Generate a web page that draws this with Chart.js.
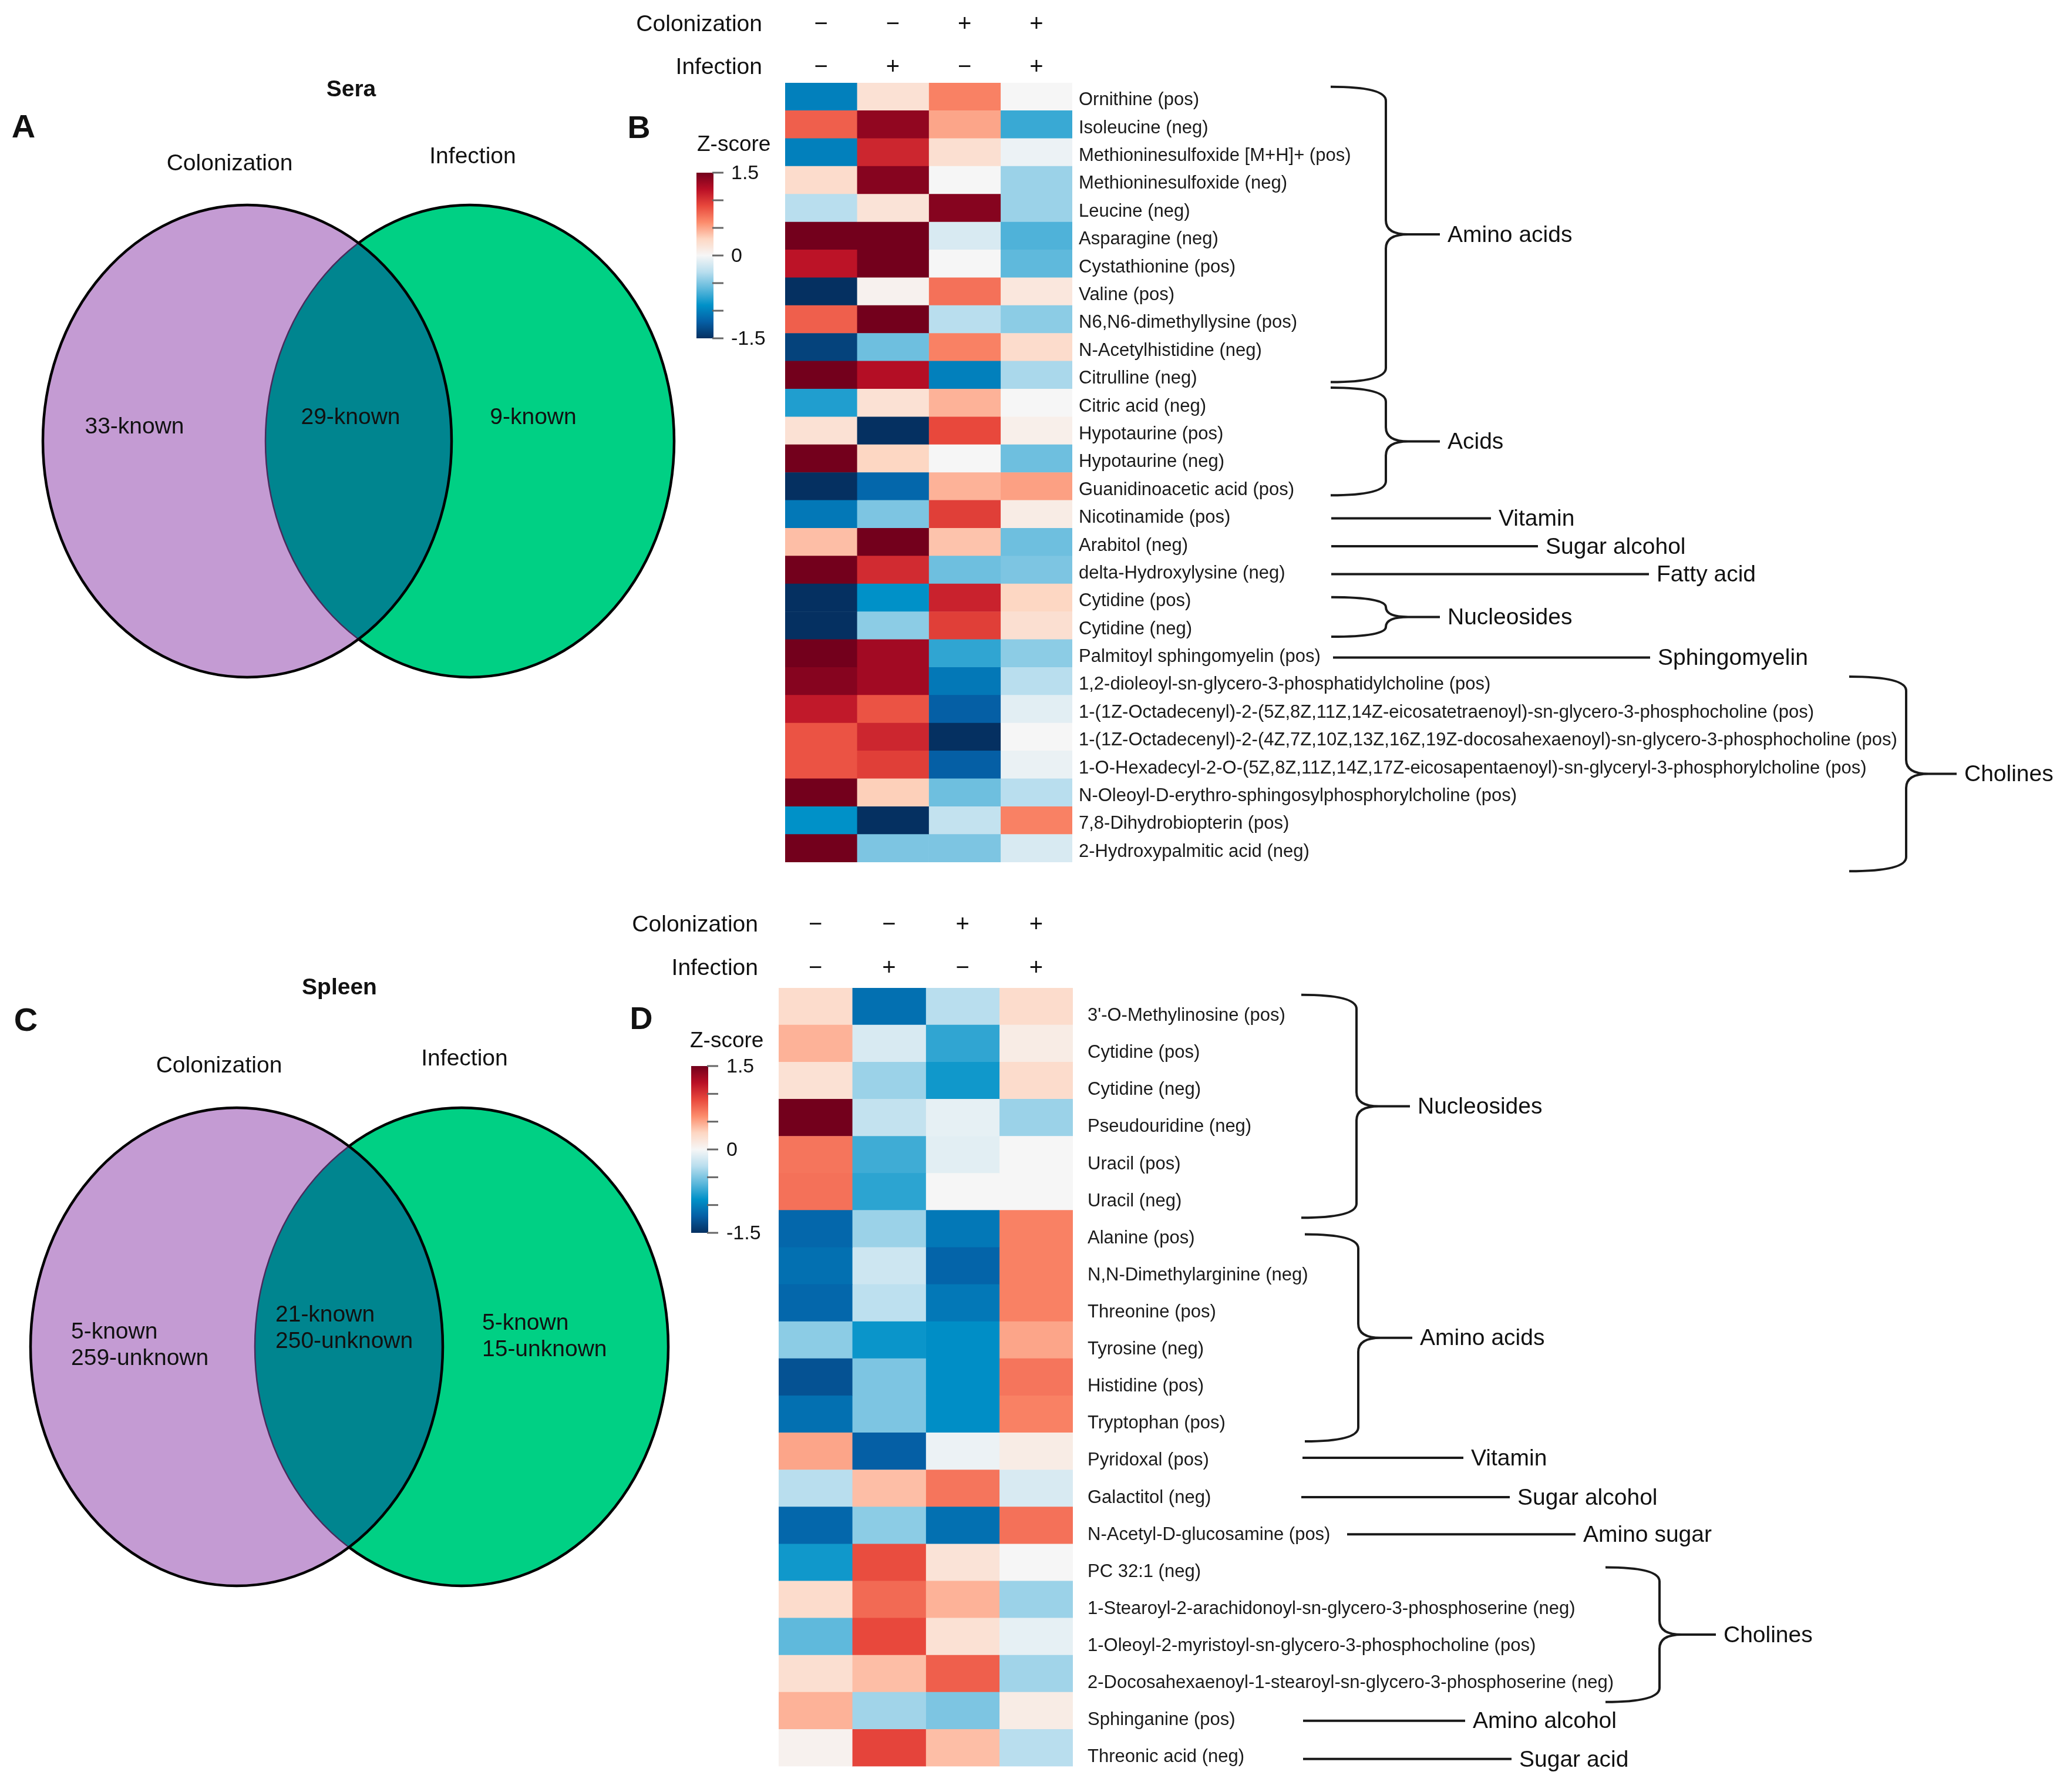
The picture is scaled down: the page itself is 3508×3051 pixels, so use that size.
<!DOCTYPE html>
<html>
<head>
<meta charset="utf-8">
<script src="https://cdn.jsdelivr.net/npm/chart.js@4.4.1/dist/chart.umd.min.js"></script>
<style>
  html, body { margin: 0; padding: 0; background: #fff; }
  #page { position: relative; width: 3508px; height: 3051px; background: #fff; overflow: hidden; }
  canvas { position: absolute; }
</style>
</head>
<body>
<div id="page">
  <canvas id="vennA" width="1200" height="1500" style="left:0px;top:0px"></canvas>
  <canvas id="vennC" width="1200" height="1551" style="left:0px;top:1500px"></canvas>
  <canvas id="heatB" width="2508" height="1500" style="left:1000px;top:0px"></canvas>
  <canvas id="heatD" width="2508" height="1551" style="left:1000px;top:1500px"></canvas>
</div>
<script>
const FONT = "'Liberation Sans', Arial, Helvetica, sans-serif";
Chart.defaults.font.family = FONT;
Chart.defaults.color = '#1a1a1a';

// ---------- data ----------
const vennSets = ['Colonization', 'Infection'];
// colonization only, shared, infection only
const seraVennCounts = [['33-known'], ['29-known'], ['9-known']];
const spleenVennCounts = [['5-known', '259-unknown'], ['21-known', '250-unknown'], ['5-known', '15-unknown']];

const colonizationStatus = ['\u2212', '\u2212', '+', '+'];
const infectionStatus = ['\u2212', '+', '\u2212', '+'];

const seraMetabolites = [
  'Ornithine (pos)', 'Isoleucine (neg)', 'Methioninesulfoxide [M+H]+ (pos)', 'Methioninesulfoxide (neg)',
  'Leucine (neg)', 'Asparagine (neg)', 'Cystathionine (pos)', 'Valine (pos)', 'N6,N6-dimethyllysine (pos)',
  'N-Acetylhistidine (neg)', 'Citrulline (neg)', 'Citric acid (neg)', 'Hypotaurine (pos)', 'Hypotaurine (neg)',
  'Guanidinoacetic acid (pos)', 'Nicotinamide (pos)', 'Arabitol (neg)', 'delta-Hydroxylysine (neg)',
  'Cytidine (pos)', 'Cytidine (neg)', 'Palmitoyl sphingomyelin (pos)',
  '1,2-dioleoyl-sn-glycero-3-phosphatidylcholine (pos)',
  '1-(1Z-Octadecenyl)-2-(5Z,8Z,11Z,14Z-eicosatetraenoyl)-sn-glycero-3-phosphocholine (pos)',
  '1-(1Z-Octadecenyl)-2-(4Z,7Z,10Z,13Z,16Z,19Z-docosahexaenoyl)-sn-glycero-3-phosphocholine (pos)',
  '1-O-Hexadecyl-2-O-(5Z,8Z,11Z,14Z,17Z-eicosapentaenoyl)-sn-glyceryl-3-phosphorylcholine (pos)',
  'N-Oleoyl-D-erythro-sphingosylphosphorylcholine (pos)', '7,8-Dihydrobiopterin (pos)', '2-Hydroxypalmitic acid (neg)'
];
// z-scores, one array per group (colonization / infection)
const seraCtrl   = [-1.0, 0.8, -1.0, 0.25, -0.3, 1.5, 1.18, -1.5, 0.8, -1.38, 1.5, -0.8, 0.2, 1.5, -1.5, -1.05, 0.4, 1.5, -1.5, -1.5, 1.5, 1.42, 1.15, 0.85, 0.85, 1.5, -0.9, 1.5];
const seraInf    = [0.2, 1.37, 1.08, 1.42, 0.18, 1.5, 1.5, 0.05, 1.5, -0.55, 1.22, 0.2, -1.5, 0.3, -1.15, -0.5, 1.5, 1.05, -0.9, -0.45, 1.3, 1.3, 0.85, 1.08, 0.95, 0.33, -1.5, -0.5];
const seraCol    = [0.65, 0.5, 0.22, 0.0, 1.42, -0.15, 0.0, 0.72, -0.3, 0.65, -1.0, 0.45, 0.9, 0.0, 0.45, 0.95, 0.38, -0.55, 1.1, 0.95, -0.75, -1.05, -1.2, -1.5, -1.2, -0.55, -0.25, -0.5];
const seraColInf = [0.0, -0.72, -0.05, -0.4, -0.4, -0.65, -0.6, 0.15, -0.45, 0.25, -0.35, 0.0, 0.07, -0.55, 0.52, 0.1, -0.55, -0.5, 0.3, 0.22, -0.45, -0.3, -0.1, 0.0, -0.06, -0.3, 0.65, -0.15];
const seraGroups = [
  ['Amino acids', 0, 10], ['Acids', 11, 14], ['Vitamin', 15, 15], ['Sugar alcohol', 16, 16],
  ['Fatty acid', 17, 17], ['Nucleosides', 18, 19], ['Sphingomyelin', 20, 20], ['Cholines', 21, 27]
];

const spleenMetabolites = [
  "3'-O-Methylinosine (pos)", 'Cytidine (pos)', 'Cytidine (neg)', 'Pseudouridine (neg)', 'Uracil (pos)',
  'Uracil (neg)', 'Alanine (pos)', 'N,N-Dimethylarginine (neg)', 'Threonine (pos)', 'Tyrosine (neg)',
  'Histidine (pos)', 'Tryptophan (pos)', 'Pyridoxal (pos)', 'Galactitol (neg)', 'N-Acetyl-D-glucosamine (pos)',
  'PC 32:1 (neg)', '1-Stearoyl-2-arachidonoyl-sn-glycero-3-phosphoserine (neg)',
  '1-Oleoyl-2-myristoyl-sn-glycero-3-phosphocholine (pos)',
  '2-Docosahexaenoyl-1-stearoyl-sn-glycero-3-phosphoserine (neg)', 'Sphinganine (pos)', 'Threonic acid (neg)'
];
const spleenCtrl   = [0.25, 0.45, 0.2, 1.5, 0.7, 0.72, -1.15, -1.1, -1.15, -0.45, -1.28, -1.1, 0.5, -0.3, -1.15, -0.85, 0.25, -0.6, 0.22, 0.45, 0.05];
const spleenInf    = [-1.1, -0.15, -0.4, -0.25, -0.7, -0.76, -0.4, -0.2, -0.28, -0.87, -0.5, -0.5, -1.2, 0.4, -0.45, 0.88, 0.75, 0.9, 0.4, -0.38, 0.92];
const spleenCol    = [-0.3, -0.75, -0.85, -0.08, -0.1, 0.0, -1.05, -1.17, -1.05, -0.92, -0.92, -0.92, -0.05, 0.7, -1.1, 0.18, 0.45, 0.2, 0.8, -0.5, 0.4];
const spleenColInf = [0.25, 0.1, 0.25, -0.4, 0.0, 0.0, 0.65, 0.65, 0.65, 0.5, 0.7, 0.65, 0.1, -0.15, 0.72, 0.0, -0.4, -0.08, -0.38, 0.1, -0.3];
const spleenGroups = [
  ['Nucleosides', 0, 5], ['Amino acids', 6, 11], ['Vitamin', 12, 12], ['Sugar alcohol', 13, 13],
  ['Amino sugar', 14, 14], ['Cholines', 15, 18], ['Amino alcohol', 19, 19], ['Sugar acid', 20, 20]
];

const zTicks = [-1.5, -1.0, -0.5, 0, 0.5, 1.0, 1.5];
const zTickLabels = ['-1.5', '', '', '0', '', '', '1.5'];

// ---------- colour scale ----------
const zStops = [-1.5, -1.2, -0.9, -0.6, -0.3, 0, 0.3, 0.6, 0.9, 1.2, 1.5];
const zRGB = [
  [5, 48, 97], [5, 95, 165], [0, 145, 200], [95, 185, 220], [185, 222, 238], [246, 246, 246],
  [253, 215, 195], [252, 140, 108], [232, 72, 60], [185, 15, 38], [115, 0, 28]
];
function zColor(z) {
  const v = Math.max(zStops[0], Math.min(zStops[zStops.length - 1], z));
  let i = 0;
  while (i < zStops.length - 2 && v > zStops[i + 1]) i++;
  const t = (v - zStops[i]) / (zStops[i + 1] - zStops[i]);
  const c = zRGB[i].map((a, k) => Math.round(a + (zRGB[i + 1][k] - a) * t));
  return `rgb(${c[0]},${c[1]},${c[2]})`;
}

// ---------- venn ----------
const vennDraw = {
  id: 'vennDraw',
  afterDraw(chart, args, o) {
    const { ctx, scales: { x, y } } = chart;
    const E = o.ellipses.map(e => ({
      cx: x.getPixelForValue(e.cx), cy: y.getPixelForValue(e.cy),
      rx: Math.abs(x.getPixelForValue(e.cx + e.rx) - x.getPixelForValue(e.cx)),
      ry: Math.abs(y.getPixelForValue(e.cy + e.ry) - y.getPixelForValue(e.cy))
    }));
    const path = e => { ctx.beginPath(); ctx.ellipse(e.cx, e.cy, e.rx, e.ry, 0, 0, Math.PI * 2); };
    const [a, b] = E;
    ctx.save();
    path(a); ctx.fillStyle = '#c49bd3'; ctx.fill();
    path(b); ctx.fillStyle = '#00d084'; ctx.fill();
    ctx.save();
    path(a); ctx.clip();
    path(b); ctx.fillStyle = '#00858f'; ctx.fill();
    ctx.strokeStyle = '#4a2a5c'; ctx.lineWidth = 2.5; ctx.stroke();
    ctx.restore();
    ctx.save();
    ctx.beginPath(); ctx.rect(0, 0, chart.width, chart.height);
    ctx.ellipse(a.cx, a.cy, a.rx, a.ry, 0, 0, Math.PI * 2);
    ctx.clip('evenodd');
    path(b); ctx.strokeStyle = '#000'; ctx.lineWidth = 4.5; ctx.stroke();
    ctx.restore();
    path(a); ctx.strokeStyle = '#000'; ctx.lineWidth = 4.5; ctx.stroke();

    ctx.fillStyle = '#111';
    ctx.textBaseline = 'middle';
    ctx.textAlign = 'center';
    ctx.font = `bold 56px ${FONT}`;
    ctx.fillText(o.letter[0], x.getPixelForValue(o.letter[1]), y.getPixelForValue(o.letter[2]));
    ctx.font = `bold 39px ${FONT}`;
    ctx.fillText(o.title[0], x.getPixelForValue(o.title[1]), y.getPixelForValue(o.title[2]));
    ctx.font = `39px ${FONT}`;
    o.setNames.forEach((n, i) => ctx.fillText(n, x.getPixelForValue(o.setPos[i][0]), y.getPixelForValue(o.setPos[i][1])));
    ctx.textAlign = o.regionAlign;
    o.regions.forEach((lines, i) => {
      const p = o.regionPos[i];
      lines.forEach((t, k) => ctx.fillText(t, x.getPixelForValue(p[0]), y.getPixelForValue(p[1] + k * 45 - (lines.length - 1) * 22.5)));
    });
    ctx.restore();
  }
};

function venn(id, opts) {
  const el = document.getElementById(id);
  return new Chart(el, {
    type: 'scatter',
    data: { datasets: [{ data: [] }] },
    options: {
      responsive: false,
      animation: false,
      layout: { padding: 0 },
      plugins: { legend: { display: false }, tooltip: { enabled: false }, vennDraw: opts },
      scales: {
        x: { min: 0, max: el.width, display: false },
        y: { min: 0, max: el.height, reverse: true, display: false }
      }
    },
    plugins: [vennDraw]
  });
}

venn('vennA', {
  letter: ['A', 40, 219], title: ['Sera', 598, 153],
  setNames: vennSets, setPos: [[391, 279], [805, 267]],
  ellipses: [{ cx: 421, cy: 751, rx: 348, ry: 402 }, { cx: 800, cy: 751, rx: 348, ry: 402 }],
  regions: seraVennCounts, regionPos: [[229, 727], [597, 711], [908, 711]], regionAlign: 'center'
});
venn('vennC', {
  letter: ['C', 44, 240], title: ['Spleen', 578, 182],
  setNames: vennSets, setPos: [[373, 315], [791, 303]],
  ellipses: [{ cx: 403, cy: 793, rx: 351, ry: 407 }, { cx: 786, cy: 793, rx: 352, ry: 407 }],
  regions: spleenVennCounts, regionPos: [[121, 791], [469, 762], [821, 776]], regionAlign: 'left'
});

// ---------- heatmaps ----------
function brace(ctx, xa, xs, xe, yt, yb) {
  const ym = (yt + yb) / 2;
  const r = Math.min(24, (yb - yt) / 4);
  const tip = 38;
  ctx.beginPath();
  ctx.moveTo(xa, yt);
  ctx.quadraticCurveTo(xs, yt, xs, yt + r);
  ctx.lineTo(xs, ym - r);
  ctx.quadraticCurveTo(xs, ym, xs + tip, ym);
  ctx.quadraticCurveTo(xs, ym, xs, ym + r);
  ctx.lineTo(xs, yb - r);
  ctx.quadraticCurveTo(xs, yb, xa, yb);
  ctx.moveTo(xs + tip - 2, ym);
  ctx.lineTo(xe, ym);
  ctx.stroke();
}

const heatDecor = {
  id: 'heatDecor',
  afterDraw(chart, args, o) {
    const { ctx, chartArea: ca, scales: { x, y } } = chart;
    ctx.save();
    ctx.fillStyle = '#111';
    ctx.textBaseline = 'middle';

    // panel letter
    ctx.textAlign = 'center';
    ctx.font = `bold 54px ${FONT}`;
    ctx.fillText(o.letter[0], o.letter[1], o.letter[2]);

    // column header
    ctx.font = `39px ${FONT}`;
    ctx.textAlign = 'right';
    ctx.fillText(vennSets[0], ca.left + o.headerDx, ca.top + o.headerRows[0]);
    ctx.fillText(vennSets[1], ca.left + o.headerDx, ca.top + o.headerRows[1]);
    ctx.textAlign = 'center';
    ctx.font = `40px ${FONT}`;
    colonizationStatus.forEach((s, j) => ctx.fillText(s, x.getPixelForValue(j + 0.5), ca.top + o.headerRows[0]));
    infectionStatus.forEach((s, j) => ctx.fillText(s, x.getPixelForValue(j + 0.5), ca.top + o.headerRows[1]));

    // colour bar
    const cb = o.colorbar;
    const zMin = zTicks[0], zMax = zTicks[zTicks.length - 1];
    const zy = z => cb.y0 + (zMax - z) / (zMax - zMin) * (cb.y1 - cb.y0);
    const grad = ctx.createLinearGradient(0, cb.y0, 0, cb.y1);
    zStops.forEach(z => grad.addColorStop((zMax - z) / (zMax - zMin), zColor(z)));
    ctx.fillStyle = grad;
    ctx.fillRect(cb.x, cb.y0, cb.w, cb.y1 - cb.y0);
    ctx.strokeStyle = '#666';
    ctx.lineWidth = 3;
    zTicks.forEach(z => {
      ctx.beginPath();
      ctx.moveTo(cb.x + cb.w - 2, zy(z));
      ctx.lineTo(cb.x + cb.w + 17, zy(z));
      ctx.stroke();
    });
    ctx.fillStyle = '#111';
    ctx.font = `34px ${FONT}`;
    ctx.textAlign = 'left';
    zTicks.forEach((z, i) => { if (zTickLabels[i]) ctx.fillText(zTickLabels[i], cb.labelX, zy(z) + 2); });
    ctx.font = `37px ${FONT}`;
    ctx.fillText('Z-score', cb.titleX, cb.titleY);

    // metabolite class annotations
    const h = y.getPixelForValue(1) - y.getPixelForValue(0);
    ctx.strokeStyle = '#1a1a1a';
    ctx.lineWidth = 4;
    ctx.font = `39px ${FONT}`;
    ctx.textAlign = 'left';
    o.groups.forEach(([name, from, to], i) => {
      const g = o.groupX[i];
      let ly, lx;
      if (from === to) {
        ly = y.getPixelForValue(from) + o.lineDy + (g[2] || 0);
        ctx.beginPath();
        ctx.moveTo(ca.right + g[0], ly);
        ctx.lineTo(ca.right + g[1], ly);
        ctx.stroke();
        lx = ca.right + g[1] + 13;
      } else {
        const yt = y.getPixelForValue(from) + o.braceTop * h + (g[3] || 0);
        const yb = y.getPixelForValue(to) + o.braceBottom * h + (g[4] || 0);
        brace(ctx, ca.right + g[0], ca.right + g[1], ca.right + g[2], yt, yb);
        ly = (yt + yb) / 2;
        lx = ca.right + g[2] + 13;
      }
      ctx.fillText(name, lx, ly + 2);
    });
    ctx.restore();
  }
};

function heatmap(id, labels, columns, groups, o) {
  const el = document.getElementById(id);
  return new Chart(el, {
    type: 'bar',
    data: {
      labels: labels,
      datasets: columns.map((vals, j) => ({
        label: colonizationStatus[j] + '/' + infectionStatus[j],
        data: vals.map(() => 1),
        backgroundColor: vals.map(zColor),
        borderWidth: 0,
        barPercentage: 1,
        categoryPercentage: 1
      }))
    },
    options: {
      indexAxis: 'y',
      responsive: false,
      animation: false,
      layout: { padding: { left: o.left, top: o.top, bottom: o.bottom, right: 0 } },
      plugins: {
        legend: { display: false },
        tooltip: { enabled: false },
        heatDecor: Object.assign({ groups: groups }, o)
      },
      scales: {
        x: { stacked: true, min: 0, max: columns.length, display: false },
        y: {
          stacked: true,
          position: 'right',
          grid: { display: false, drawTicks: false },
          border: { display: false },
          ticks: {
            autoSkip: false,
            padding: o.labelPad,
            labelOffset: o.labelOffset,
            color: '#1a1a1a',
            font: { size: 31 }
          },
          afterFit: s => { s.width = el.width - o.right; }
        }
      }
    },
    plugins: [heatDecor]
  });
}

heatmap('heatB', seraMetabolites, [seraCtrl, seraInf, seraCol, seraColInf], seraGroups, {
  left: 337, right: 826, top: 141, bottom: 32, labelPad: 11, labelOffset: 6,
  letter: ['B', 88, 220], headerDx: -39, headerRows: [-99, -26],
  colorbar: { x: 186, y0: 294, y1: 576, w: 29, labelX: 245, titleX: 187, titleY: 247 },
  braceTop: -0.36, braceBottom: 0.4, lineDy: 7,
  groupX: [[440, 534, 626, 0, -7], [440, 534, 626, -9, -4], [441, 713], [441, 793], [441, 982],
           [441, 534, 626, 16, 0], [444, 984], [1323, 1420, 1506, 9, 20]]
});

heatmap('heatD', spleenMetabolites, [spleenCtrl, spleenInf, spleenCol, spleenColInf], spleenGroups, {
  left: 326, right: 827, top: 182, bottom: 29, labelPad: 25, labelOffset: 16,
  letter: ['D', 92, 237], headerDx: -35, headerRows: [-107, -33],
  colorbar: { x: 177, y0: 315, y1: 599, w: 29, labelX: 237, titleX: 175, titleY: 273 },
  braceTop: -0.14, braceBottom: 0.62, lineDy: 4,
  groupX: [[389, 483, 574, -11, 5], [395, 486, 578, 18, 7], [391, 665, 7], [389, 744, 11], [467, 856, 11],
           [907, 999, 1095, 17, 9], [392, 668, 13], [392, 747, 15]]
});
</script>
</body>
</html>
